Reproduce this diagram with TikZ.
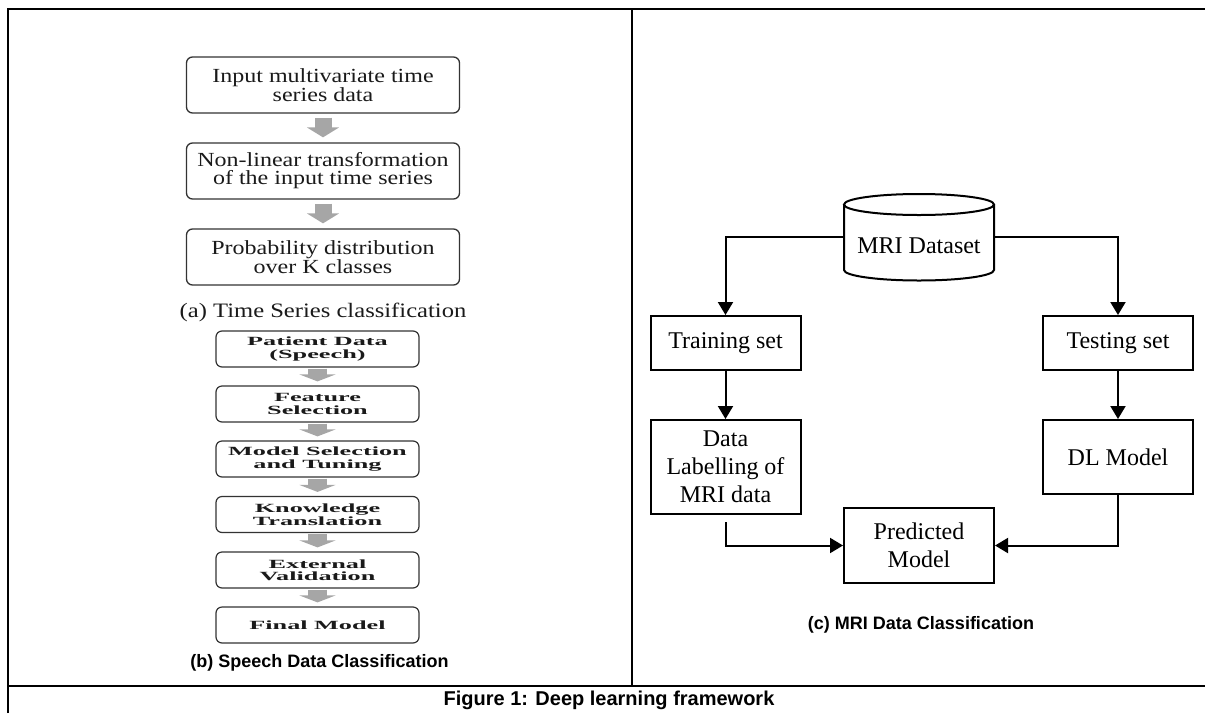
\documentclass[tikz,border=0pt]{standalone}
\usepackage{fontspec}
\setmainfont{Liberation Serif}
\newfontfamily\capfont{Liberation Sans}
\newfontfamily\wideA{Liberation Serif}[FakeStretch=1.2]
\newfontfamily\wideB{Liberation Serif}[FakeStretch=2.1]
\usetikzlibrary{arrows.meta}
\definecolor{boxline}{HTML}{333333}
\definecolor{flowgray}{HTML}{A6A6A6}
\definecolor{inktext}{HTML}{1A1A1A}

\begin{document}
\begin{tikzpicture}[x=1pt,y=-1pt,
  frame/.style={line width=2.3pt,black},
  flowA/.style={draw=boxline, line width=1.3pt, rounded corners=6pt, fill=white,
    minimum width=273pt, minimum height=56pt, inner sep=0pt, align=center,
    text=inktext, font=\wideA\fontsize{20}{18}\selectfont},
  flowB/.style={draw=boxline, line width=1.2pt, rounded corners=6pt, fill=white,
    minimum width=203pt, minimum height=36pt, inner sep=0pt, align=center,
    text=inktext, font=\wideB\bfseries\fontsize{12.5}{12.5}\selectfont},
  garrA/.style={flowgray, line width=17pt, -{Triangle[width=32pt,length=10pt]}},
  garrB/.style={flowgray, line width=19pt, -{Triangle[width=36pt,length=7pt]}},
  mribox/.style={draw=black, line width=2pt, fill=white, inner sep=0pt,
    minimum width=150pt, align=center, font=\fontsize{24}{28}\selectfont},
  link/.style={line width=2pt, black, -{Triangle[width=15pt,length=13pt]}},
  subcap/.style={font=\capfont\bfseries\fontsize{18}{20}\selectfont}
]
\useasboundingbox (0,0) rectangle (1205,713);

% outer frame, column divider and caption rule
\draw[frame] (8,713) -- (8,9) -- (1205,9);
\draw[frame] (632,9) -- (632,686);
\draw[frame] (8,686) -- (1205,686);

% (a) time series classification
\node[flowA] (a1) at (323,85)  {Input multivariate time\\series data};
\node[flowA] (a2) at (323,171) {Non-linear transformation\\of the input time series};
\node[flowA] (a3) at (323,257) {Probability distribution\\over K classes};
\draw[garrA] ([yshift=-4pt]a1.south) -- ([yshift=5pt]a2.north);
\draw[garrA] ([yshift=-4pt]a2.south) -- ([yshift=5pt]a3.north);
\node[font=\wideA\fontsize{20.5}{22}\selectfont, text=inktext] (capa) at (323,312) {(a) Time Series classification};

% (b) speech data classification
\node[flowB] (b1) at (317.5,349)   {Patient Data\\(Speech)};
\node[flowB] (b2) at (317.5,404)   {Feature\\Selection};
\node[flowB] (b3) at (317.5,459)   {Model Selection\\and Tuning};
\node[flowB] (b4) at (317.5,514.5) {Knowledge\\Translation};
\node[flowB] (b5) at (317.5,570)   {External\\Validation};
\node[flowB] (b6) at (317.5,625)   {Final Model};
\foreach \u/\v in {b1/b2,b2/b3,b3/b4,b4/b5,b5/b6}
  \draw[garrB] ([yshift=-1pt]\u.south) -- ([yshift=4pt]\v.north);
\node[subcap] (capb) at (319.5,663) {(b) Speech Data Classification};

% (c) MRI data classification
\node[minimum width=150pt, minimum height=86pt, inner sep=0pt] (db) at (919,237) {};
\draw[line width=2pt, fill=white] (844,204.5) -- (844,270)
  arc[start angle=180, end angle=360, x radius=75pt, y radius=10.5pt] -- (994,204.5);
\draw[line width=2pt, fill=white] (919,204.5) ellipse [x radius=75pt, y radius=10.5pt];
\node[font=\fontsize{24}{28}\selectfont] (dbtext) at (919,246) {MRI Dataset};

\node[mribox, minimum height=54pt] (train) at (725.5,343)  {Training set};
\node[mribox, minimum height=54pt] (test)  at (1118,343)   {Testing set};
\node[mribox, minimum height=94pt] (label) at (725.5,467)  {Data\\Labelling of\\MRI data};
\node[mribox, minimum height=74pt] (dl)    at (1118,457)   {DL Model};
\node[mribox, minimum height=75pt] (pred)  at (919,545.5)  {Predicted\\Model};

\draw[link] (db.west) -| (train.north);
\draw[link] (db.east) -| (test.north);
\draw[link] (train) -- (label);
\draw[link] (test) -- (dl);
\draw[link] ([yshift=-7pt]label.south) |- (pred.west);
\draw[link] (dl.south) |- (pred.east);
\node[subcap] (capc) at (921,625) {(c) MRI Data Classification};

% figure caption
\node[font=\capfont\bfseries\fontsize{20}{22}\selectfont] (figcap) at (609,700) {Figure 1: Deep learning framework};
\end{tikzpicture}
\end{document}
